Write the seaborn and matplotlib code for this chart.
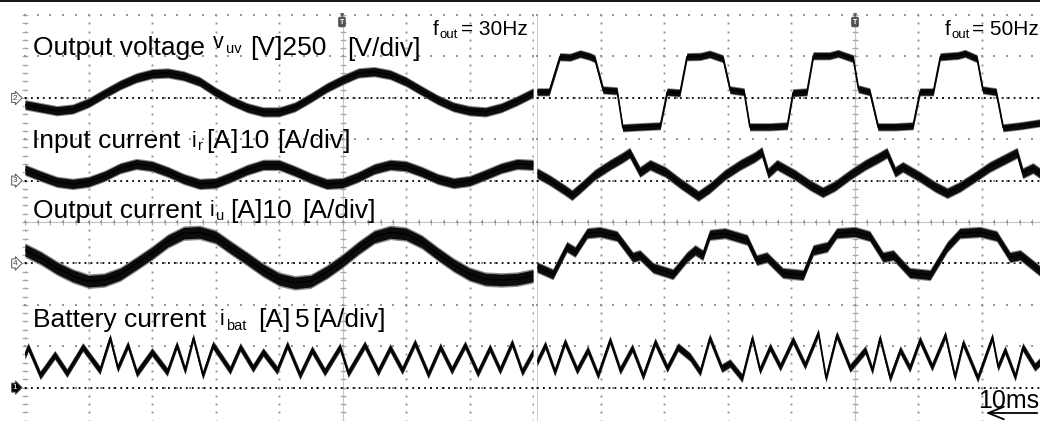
import numpy as np
import pandas as pd
import matplotlib
matplotlib.use("Agg")
import matplotlib.pyplot as plt
import seaborn as sns
from matplotlib.lines import Line2D
from matplotlib.patches import FancyArrowPatch

sns.set_theme(style="white")
plt.rcParams["font.family"] = ["Liberation Sans", "DejaVu Sans"]

# ---------------- data (time in ms, 10 ms/div) ----------------
# left screen: f_out = 30 Hz
t_30 = [0.0, 2.5, 5.0, 7.5, 10.0, 12.5, 15.0, 17.5, 20.0, 22.5, 25.0, 27.5, 30.0,
        32.5, 35.0, 37.5, 40.0, 42.5, 45.0, 47.5, 50.0, 52.5, 55.0, 57.5, 60.0,
        62.5, 65.0, 67.5, 70.0, 72.5, 75.0, 77.5, 80.0]
vuv_30 = [-42, -60, -78, -68, -30, 25, 78, 120, 145, 150, 132, 98, 35, -18, -60,
          -85, -85, -55, 0, 60, 108, 150, 158, 140, 98, 42, -12, -55, -78, -85,
          -60, -18, 30]
ir_30 = [2.6, 1.1, -0.3, -0.8, -0.3, 1.1, 3.0, 4.0, 3.5, 2.1, 0.4, -0.8, -0.6,
         0.9, 2.6, 3.8, 3.8, 2.3, 0.6, -0.8, -0.6, 0.9, 2.8, 3.8, 3.5, 2.1, 0.4,
         -0.6, -0.1, 1.4, 3.0, 4.0, 3.8]
iu_30 = [3.2, 1.3, -1.1, -3.0, -4.3, -4.0, -2.6, -0.1, 2.5, 5.4, 7.3, 7.5, 6.4,
         3.7, 1.1, -1.6, -3.8, -4.7, -4.3, -2.1, 0.6, 3.7, 6.4, 7.5, 7.1, 5.2,
         2.3, -0.4, -2.6, -3.8, -4.0, -3.8, -3.0]
tbat_30 = [0.0, 0.5, 2.4, 4.7, 6.6, 9.1, 11.8, 13.4, 14.6, 16.2, 17.6, 20.0, 22.4,
           23.9, 25.2, 26.5, 28.0, 29.6, 32.3, 33.9, 35.9, 37.5, 39.7, 41.3, 43.3,
           45.2, 47.2, 49.6, 50.9, 53.5, 55.6, 57.5, 59.4, 61.4, 63.5, 65.4, 67.2,
           69.3, 71.3, 73.2, 74.8, 76.7, 78.3, 80.0]
ibat_30 = [3.95, 4.9, 1.5, 3.95, 1.75, 4.9, 2.1, 6.0, 2.35, 5.15, 1.75, 4.3, 1.9,
           5.15, 2.1, 6.0, 1.5, 5.15, 2.1, 4.9, 2.35, 4.3, 2.1, 5.15, 1.5, 4.55,
           1.9, 4.9, 1.75, 5.15, 1.9, 4.8, 2.1, 5.4, 1.6, 4.9, 2.1, 5.15, 1.75,
           4.8, 2.1, 5.4, 1.9, 4.3]

# right screen: f_out = 50 Hz
tv_50 = [0.0, 1.9, 3.6, 5.2, 6.8, 8.3, 9.1, 10.4, 12.6, 13.5, 16.2, 19.4, 20.5,
         22.5, 23.6, 25.7, 27.2, 29.3, 30.4, 32.6, 33.5, 36.7, 39.4, 40.3, 42.5,
         43.5, 46.1, 47.4, 49.8, 50.6, 52.4, 53.7, 56.4, 59.2, 60.3, 62.4, 63.5,
         66.3, 67.4, 69.3, 70.2, 72.3, 73.4, 76.1, 79.2]
vuv_50 = [36, 36, 248, 245, 266, 250, 236, 48, 42, -181, -175, -169, 36, 30, 248,
          250, 264, 236, 48, 36, -175, -175, -169, 30, 36, 254, 254, 268, 236, 54,
          36, -175, -175, -169, 36, 36, 248, 256, 268, 236, 48, 36, -181, -169,
          -151]
tir_50 = [0.0, 2.0, 4.4, 5.5, 6.8, 9.1, 11.5, 13.4, 14.6, 16.2, 17.8, 20.2, 22.5,
          24.1, 25.4, 27.2, 29.6, 32.0, 34.3, 35.4, 36.4, 37.8, 40.6, 43.0, 45.0,
          46.9, 49.3, 51.7, 54.0, 55.1, 56.4, 57.6, 60.3, 62.7, 64.6, 66.6, 69.0,
          71.3, 73.7, 75.6, 76.5, 78.1, 79.2]
ir_50 = [1.8, 0.1, -2.3, -3.5, -1.8, 1.4, 3.8, 5.5, 6.7, 2.1, 3.8, 2.1, -0.6, -2.3,
         -3.7, -1.8, 1.4, 3.8, 5.7, 6.9, 1.8, 3.8, 1.4, -1.1, -2.8, -1.3, 1.4, 3.8,
         5.7, 6.7, 2.1, 3.3, 0.9, -1.5, -3.0, -1.5, 0.9, 3.3, 5.2, 6.7, 1.8, 3.0,
         1.8]
tiu_50 = [0.0, 2.5, 4.7, 6.0, 7.9, 9.9, 12.6, 15.1, 16.2, 18.3, 21.4, 23.6, 24.9,
          26.1, 27.2, 29.6, 33.1, 34.6, 36.2, 38.7, 41.9, 43.5, 45.7, 47.2, 50.1,
          52.4, 54.5, 56.1, 58.7, 61.9, 64.6, 66.6, 69.8, 72.4, 74.5, 76.1, 79.2]
iu_50 = [-0.9, -2.6, 4.0, 2.8, 7.3, 7.6, 6.6, 1.5, 2.0, -1.1, -2.6, 1.5, 3.2, 2.0,
         6.9, 7.3, 5.7, 0.8, 1.5, -2.3, -2.8, 3.2, 4.0, 7.3, 7.6, 6.6, 1.5, 2.0,
         -2.3, -2.8, 4.0, 7.3, 7.6, 6.6, 1.5, 2.0, -1.8]
tbat_50 = [0.0, 1.3, 2.8, 4.4, 6.3, 8.0, 9.6, 11.5, 13.1, 15.0, 16.7, 18.6, 20.5,
           22.2, 24.1, 25.7, 27.2, 29.1, 30.4, 32.3, 33.9, 35.1, 36.7, 38.3, 40.3,
           42.2, 44.3, 45.5, 47.2, 49.3, 51.7, 52.8, 54.0, 55.6, 57.2, 58.7, 60.3,
           62.2, 64.3, 65.8, 67.1, 69.4, 71.7, 72.6, 73.7, 75.3, 76.5, 78.4, 79.2]
ibat_50 = [3.1, 5.15, 1.9, 5.5, 2.1, 4.55, 1.5, 5.75, 2.1, 4.8, 1.4, 5.5, 2.35, 4.9,
           3.7, 1.9, 6.0, 2.35, 2.95, 1.15, 6.0, 2.1, 4.9, 2.5, 5.75, 2.7, 6.6,
           1.15, 6.35, 2.35, 4.55, 2.1, 6.0, 1.15, 4.55, 2.35, 5.75, 2.5, 6.35,
           1.3, 5.4, 1.15, 6.1, 2.5, 4.55, 1.3, 4.9, 2.5, 3.1]

# channel settings: reference level (div) and units per division
CH = {"vuv": (8, 250.0), "ir": (6, 10.0), "iu": (4, 10.0), "ibat": (1, 5.0)}
MS_PER_DIV = 10.0

# ---------------- figure ----------------
W, H = 1040, 421
DIVY = 41.4
YMIN = 10 - 406 / DIVY

fig = plt.figure(figsize=(W / 100, H / 100), dpi=100)
fig.patch.set_facecolor("white")
axL = fig.add_axes([25 / W, 0, 508 / W, 406 / H])
axR = fig.add_axes([537 / W, 0, 503 / W, 406 / H])

GRID = "#959595"


def graticule(ax, xmax, left_solid):
    ax.set_xlim(0, xmax)
    ax.set_ylim(YMIN, 10)
    ax.axis("off")
    # dotted graticule: one dot every 0.2 division
    fine_x = np.arange(0, xmax + 1e-6, 0.2)
    fine_y = np.arange(0, 10.01, 0.2)
    for y in range(1, 11):
        ax.plot(fine_x, np.full(len(fine_x), float(y)), ls="none", marker="s",
                ms=1.7, mew=0, color=GRID, zorder=1.5, clip_on=False)
    for x in range(0, int(xmax) + 1):
        if x == 0 and left_solid:
            ax.axvline(0, color="#c8c8c8", lw=1.2, zorder=1)
        else:
            ax.plot(np.full(len(fine_y), float(x)), fine_y, ls="none", marker="s",
                    ms=1.4, mew=0, color=GRID, zorder=1)
    # centre cross with fine ticks
    ax.axvline(5, color="#c4c4c4", lw=0.8, zorder=1)
    ax.axhline(5, color="#c4c4c4", lw=0.8, zorder=1)
    ax.plot(fine_x, np.full(len(fine_x), 5.0), ls="none", marker="|", ms=5, mew=0.8,
            color="#a8a8a8", zorder=1)
    ax.plot(np.full(len(fine_y), 5.0), fine_y, ls="none", marker="_", ms=5, mew=0.8,
            color="#a8a8a8", zorder=1)
    if not left_solid:
        ax.plot(np.zeros(len(fine_y)), fine_y, ls="none", marker="_", ms=4, mew=0.8,
                color="#a8a8a8", zorder=1, clip_on=False)
    # channel reference levels
    for key in CH:
        ax.axhline(CH[key][0], color="black", lw=1.3, ls=(0, (1, 2.3)), zorder=2)


def trace(ax, t, v, key, half, lw=1.0):
    off, scale = CH[key]
    df = pd.DataFrame({"x": np.asarray(t) / MS_PER_DIV,
                       "y": off + np.asarray(v) / scale})
    ax.fill_between(df["x"], df["y"] - half * 1.25, df["y"] + half * 1.25,
                    color="#8a8a8a", lw=0, zorder=3)
    ax.fill_between(df["x"], df["y"] - half, df["y"] + half,
                    color="#0c0c0c", lw=0, zorder=4)
    sns.lineplot(data=df, x="x", y="y", ax=ax, color="black", lw=lw,
                 estimator=None, sort=False, zorder=5, legend=False)


graticule(axL, 8.0, left_solid=False)
graticule(axR, 503 / 63.5, left_solid=True)

trace(axL, t_30, vuv_30, "vuv", 0.10)
trace(axL, t_30, ir_30, "ir", 0.11)
trace(axL, t_30, iu_30, "iu", 0.14)
trace(axL, tbat_30, ibat_30, "ibat", 0.09)

trace(axR, tv_50, vuv_50, "vuv", 0.08)
trace(axR, tir_50, ir_50, "ir", 0.11)
trace(axR, tiu_50, iu_50, "iu", 0.11)
trace(axR, tbat_50, ibat_50, "ibat", 0.09)

for ax in (axL, axR):
    ax.set_xlabel("")
    ax.set_ylabel("")


# ---------------- texts ----------------
def ftxt(x, y, s, size, **kw):
    fig.text(x / W, 1 - y / H, s, fontsize=size, va="baseline", ha="left",
             color="black", **kw)


BIG = 19
MID = 15.5
SUB = 10.5

ftxt(33, 55, "Output voltage", BIG)
ftxt(213, 48, "v", MID)
ftxt(226, 53, "uv", SUB)
ftxt(250, 55, "[V]250", BIG)
ftxt(347, 56, "[V/div]", BIG)

ftxt(32, 148, "Input current", BIG)
ftxt(192, 147, "i", MID)
ftxt(198, 150, "r", SUB)
ftxt(206, 148, "[A]", BIG)
ftxt(240, 148, "10", BIG)
ftxt(277, 148, "[A/div]", BIG)

ftxt(33, 218, "Output current", BIG)
ftxt(210, 216, "i", MID)
ftxt(216, 220, "u", SUB)
ftxt(230, 218, "[A]10", BIG)
ftxt(302, 218, "[A/div]", BIG)

ftxt(33, 327, "Battery current", BIG)
ftxt(220, 325, "i", MID)
ftxt(226, 330, "bat", SUB)
ftxt(258, 327, "[A]", BIG)
ftxt(295, 327, "5", BIG)
ftxt(312, 327, "[A/div]", BIG)

# f_out labels
ftxt(433, 35, "f", 15)
ftxt(440, 38, "out", 9.5)
ftxt(461, 35, "= 30Hz", 15)
ftxt(945, 35, "f", 15)
ftxt(952, 38, "out", 9.5)
ftxt(972, 35, "= 50Hz", 15)

# channel reference markers
for lab, ypix, filled in (("2", 98, False), ("3", 180.6, False),
                          ("4", 263.4, False), ("1", 387.6, True)):
    fig.text(15 / W, 1 - ypix / H, lab, fontsize=6, ha="center", va="center",
             color="white" if filled else "#444444",
             bbox=dict(boxstyle="rarrow,pad=0.12", fc="black" if filled else "white",
                       ec="#555555", lw=0.7))

# trigger markers on the centre lines
for xpix in (342, 855):
    fig.text(xpix / W, 1 - 22 / H, "T", fontsize=5, ha="center", va="center",
             color="white", fontweight="bold",
             bbox=dict(boxstyle="round,pad=0.15", fc="#555555", ec="#555555"))
    fig.text(xpix / W, 1 - 15.5 / H, "\u25BC", fontsize=4, ha="center", va="center",
             color="#555555", family=["DejaVu Sans"])

# time scale arrow
ftxt(978, 408, "10ms", 18)
fig.add_artist(FancyArrowPatch((1040 / W, 1 - 413 / H), (983 / W, 1 - 413 / H),
                               transform=fig.transFigure,
                               arrowstyle="->,head_length=0.75,head_width=0.3",
                               mutation_scale=15, lw=1.3, color="black"))

# top border
fig.add_artist(Line2D([0, 1], [1 - 0.8 / H, 1 - 0.8 / H], transform=fig.transFigure,
                      color="black", lw=1.3))

fig.savefig("out.png", dpi=100, facecolor="white")
